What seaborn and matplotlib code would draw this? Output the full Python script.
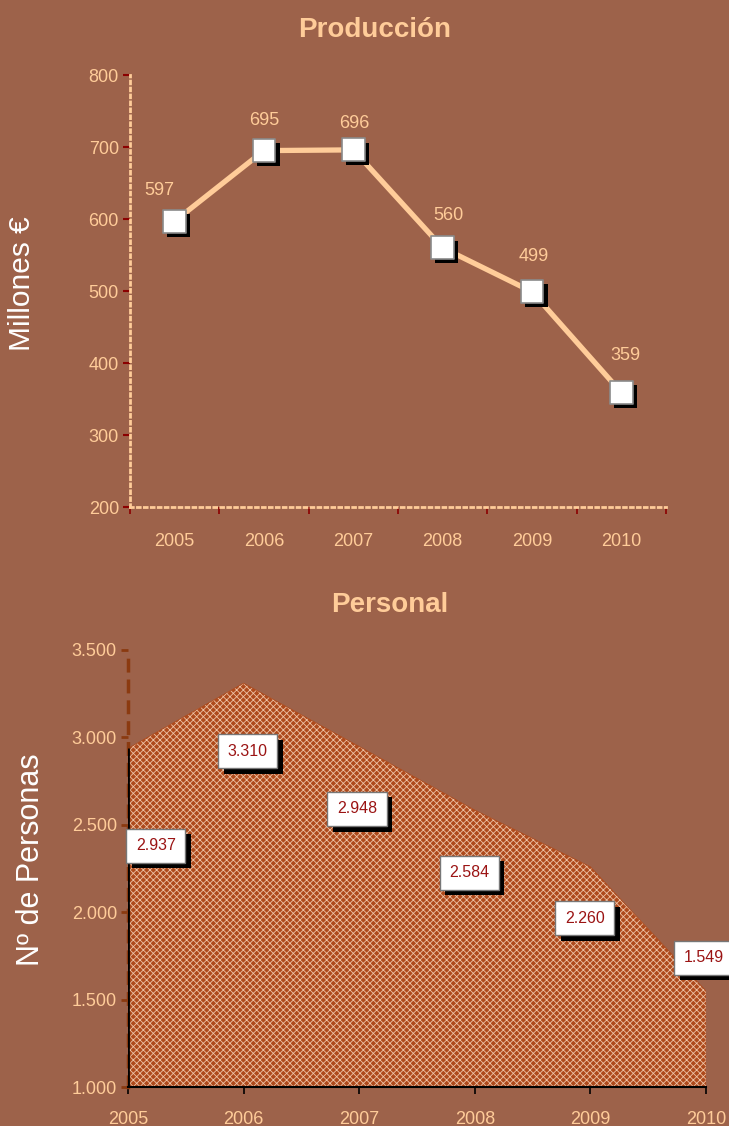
import numpy as np
import pandas as pd
import matplotlib
matplotlib.use("Agg")
import matplotlib.pyplot as plt
import matplotlib.patheffects as pe
import seaborn as sns

# === Data ===
years = ["2005", "2006", "2007", "2008", "2009", "2010"]
produccion = [597, 695, 696, 560, 499, 359]
personal = [2937, 3310, 2948, 2584, 2260, 1549]
prod_ticks = [200, 300, 400, 500, 600, 700, 800]
pers_ticks = [1000, 1500, 2000, 2500, 3000, 3500]

# === Style ===
bg = "#9D624A"
peach = "#FFCC99"
darkred = "#8B0000"
sns.set_theme(style="white")
plt.rcParams["font.family"] = ["Liberation Sans", "DejaVu Sans"]

df_prod = pd.DataFrame({"pos": np.arange(len(years)), "valor": produccion})
df_pers = pd.DataFrame({"pos": np.arange(len(years)), "valor": personal})

fig = plt.figure(figsize=(7.29, 11.26), dpi=100, facecolor=bg)
ax1 = fig.add_axes([130 / 729, 1 - 507 / 1126, 536 / 729, 432 / 1126])
ax2 = fig.add_axes([128 / 729, 1 - 1087 / 1126, 578 / 729, 437 / 1126])
for ax in (ax1, ax2):
    ax.set_facecolor(bg)
    ax.patch.set_alpha(0)
    for s in ("top", "right"):
        ax.spines[s].set_visible(False)

# === Top chart: Produccion ===
sns.lineplot(data=df_prod, x="pos", y="valor", ax=ax1, color=peach, lw=3.8, zorder=2)
sc = ax1.scatter(df_prod["pos"], df_prod["valor"], marker="s", s=270, c="white",
                 edgecolors="#8a8a8a", linewidths=1.2, zorder=3)
sc.set_path_effects([pe.SimplePatchShadow(offset=(3, -3), shadow_rgbFace="black", alpha=1),
                     pe.Normal()])
lab_off = [(-11, 22), (0, 22), (1, 19), (4, 23), (1, 25), (3, 27)]
for i, v in enumerate(produccion):
    ax1.annotate(str(v), (i, v), xytext=lab_off[i], textcoords="offset points",
                 ha="center", va="center", color=peach, fontsize=13)

ax1.set_xlim(-0.5, 5.5)
ax1.set_ylim(200, 800)
ax1.set_yticks(prod_ticks)
ax1.set_xticks(range(len(years)))
ax1.set_xticklabels(years)
ax1.set_xticks(np.arange(-0.5, 6, 1), minor=True)
ax1.tick_params(axis="x", which="major", length=0, pad=19, labelcolor=peach, labelsize=13)
ax1.tick_params(axis="x", which="minor", length=5, width=1.2, color=darkred, direction="out", bottom=True)
ax1.tick_params(axis="y", length=5, width=1.5, color=darkred, direction="out", left=True,
                labelcolor=peach, labelsize=13, pad=3)
for s in ("left", "bottom"):
    ax1.spines[s].set_color(peach)
    ax1.spines[s].set_linewidth(2)
    ax1.spines[s].set_linestyle((0, (1, 1.5)))
ax1.set_xlabel("")
ax1.set_ylabel("Millones €", color="white", fontsize=21.5)
ax1.yaxis.set_label_coords(-0.175, 0.518)

# === Bottom chart: Personal ===
sns.lineplot(data=df_pers, x="pos", y="valor", ax=ax2, color="#AE4A1C", lw=0.5, zorder=2)
with plt.rc_context({"hatch.color": "#EDC2A6", "hatch.linewidth": 0.6}):
    ax2.fill_between(df_pers["pos"], df_pers["valor"], 1000, facecolor="#AE4A1C",
                     edgecolor="#EDC2A6", linewidth=0, hatch="xxxxx", zorder=1)
ax2.vlines(df_pers["pos"].iloc[0], 1000, personal[0], color="black", lw=2, zorder=3)

box_off = [(20, -70), (3, -49), (-1.5, -45), (-4, -45), (-4, -37), (-1.5, 24)]
for i, v in enumerate(personal):
    t = ax2.annotate(f"{v:,}".replace(",", "."), (i, v), xytext=box_off[i], textcoords="offset points",
                     ha="center", va="center", color="#9B1414", fontsize=11.5,
                     bbox=dict(boxstyle="square,pad=0.6", facecolor="white", edgecolor="#777777", lw=1),
                     zorder=5)
    t.get_bbox_patch().set_path_effects([pe.SimplePatchShadow(offset=(4, -4), shadow_rgbFace="black", alpha=1),
                                         pe.Normal()])

ax2.set_xlim(0, 5)
ax2.set_ylim(1000, 3500)
ax2.set_yticks(pers_ticks)
ax2.set_yticklabels([f"{v:,}".replace(",", ".") for v in pers_ticks])
ax2.set_xticks(range(len(years)))
ax2.set_xticklabels(years)
ax2.tick_params(axis="x", length=5, width=1.2, color="black", direction="out", bottom=True,
                labelcolor=peach, labelsize=13, pad=12)
ax2.tick_params(axis="y", length=5, width=2, color="#8B3A10", direction="out", left=True,
                labelcolor=peach, labelsize=13, pad=3)
ax2.spines["left"].set_color("#8B3A10")
ax2.spines["left"].set_linewidth(2.5)
ax2.spines["left"].set_linestyle((0, (3, 3)))
ax2.spines["bottom"].set_color("black")
ax2.spines["bottom"].set_linewidth(1.5)
ax2.set_xlabel("")
ax2.set_ylabel("Nº de Personas", color="white", fontsize=22)
ax2.yaxis.set_label_coords(-0.142, 0.52)

# === Titles ===
fig.text(375 / 729, 1 - 30 / 1126, "Producción", ha="center", va="center", color=peach,
         fontsize=20, fontweight="bold")
fig.text(390 / 729, 1 - 605 / 1126, "Personal", ha="center", va="center", color=peach,
         fontsize=20, fontweight="bold")

fig.savefig("out.png", dpi=100, facecolor=bg)
